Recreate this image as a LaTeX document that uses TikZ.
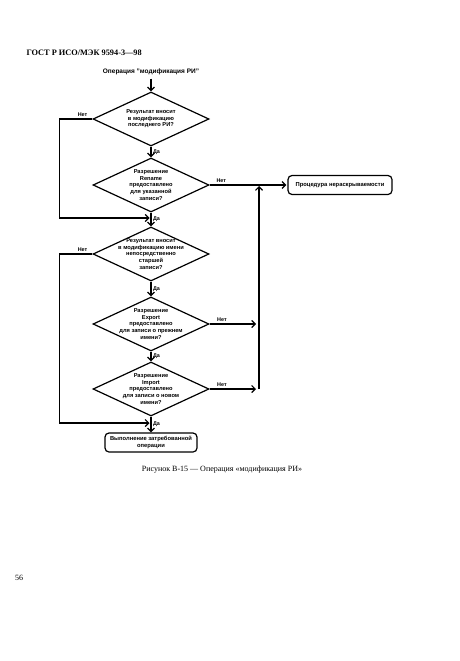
\documentclass[tikz,border=0pt]{standalone}
\usepackage{fontspec}
\setmainfont{Liberation Serif}
\setsansfont{Liberation Sans}
\usetikzlibrary{shapes.geometric,arrows.meta}

\tikzset{
  decision/.style={diamond, draw, line width=1.2pt, minimum width=116pt, minimum height=54pt, inner sep=0pt},
  dtext/.style={font=\sffamily\bfseries\fontsize{5.7}{6.6}\selectfont, align=center, inner sep=0pt},
  procbox/.style={draw, line width=1.2pt, rounded corners=4pt, align=center, inner sep=1pt,
    font=\sffamily\bfseries\fontsize{5.8}{7}\selectfont},
  flow/.style={line width=1.2pt, -{Straight Barb[length=3.5pt,width=7pt]}},
  lbl/.style={font=\sffamily\bfseries\fontsize{5.4}{6}\selectfont, inner sep=1.5pt},
}

\begin{document}
\begin{tikzpicture}[x=1pt,y=-1pt]
    \useasboundingbox (0,0) rectangle (459,661);
    % Page header and title
    \node[font=\bfseries\fontsize{8.3}{10}\selectfont, anchor=west] (hdr) at (23,53) {ГОСТ Р ИСО/МЭК 9594-3—98};
    \node[font=\sffamily\bfseries\fontsize{6.5}{8}\selectfont] (title) at (151,72) {Операция "модификация РИ"};
    % Decisions
    \node[decision] (d1) at (151,119) {};
    \node[dtext] (t1) at (d1) {Результат вносит\\в модификацию\\последнего РИ?};
    \node[decision] (d2) at (151,185) {};
    \node[dtext] (t2) at (d2) {Разрешение\\Rename\\предоставлено\\для указанной\\записи?};
    \node[decision] (d3) at (151,254) {};
    \node[dtext] (t3) at (d3) {Результат вносит\\в модификацию имени\\непосредственно\\старшей\\записи?};
    \node[decision] (d4) at (151,324) {};
    \node[dtext] (t4) at (d4) {Разрешение\\Export\\предоставлено\\для записи о прежнем\\имени?};
    \node[decision] (d5) at (151,389) {};
    \node[dtext] (t5) at (d5) {Разрешение\\Import\\предоставлено\\для записи о новом\\имени?};
    % Procedure boxes
    \node[procbox, minimum width=104pt, minimum height=19pt] (np) at (340,185) {Процедура нераскрываемости};
    \node[procbox, minimum width=92pt, minimum height=19pt] (run) at (151,442.5) {Выполнение затребованной\\операции};
    % Join points
    \coordinate (j1) at (151,218);
    \coordinate (j2) at (151,423);
    \coordinate (r2) at (259,185);
    \coordinate (r4) at (259,324);
    \coordinate (r5) at (259,389);
    % "Да" branches down
    \draw[flow] (title) -- (d1);
    \draw[flow] (d1) -- node[lbl, right] {Да} (d2);
    \draw[flow] (d2) -- node[lbl, right] {Да} (d3);
    \draw[flow] (d3) -- node[lbl, right] {Да} (d4);
    \draw[flow] (d4) -- node[lbl, right] {Да} (d5);
    \draw[flow] (d5) -- node[lbl, right] {Да} (run);
    % "Нет" branches on the left
    \draw[flow, shorten >=1.5pt] (d1.west) -- node[lbl, above, pos=0.3] {Нет} ++(-33,0) |- (j1);
    \draw[flow, shorten >=1.5pt] (d3.west) -- node[lbl, above, pos=0.3] {Нет} ++(-33,0) |- (j2);
    % "Нет" branches on the right
    \draw[flow, shorten >=1pt] (d2.east) -- node[lbl, above, pos=0.15] {Нет} (np.west);
    \draw[flow, shorten >=3pt] (d4.east) -- node[lbl, above, pos=0.25] {Нет} (r4);
    \draw[flow, shorten >=3pt] (d5.east) -- node[lbl, above, pos=0.25] {Нет} (r5);
    \draw[flow, shorten >=1pt] (r5) -- (r2);
    % Caption and page number
    \node[font=\fontsize{8}{10}\selectfont] (cap) at (222,470) {Рисунок В-15 — Операция «модификация РИ»};
    \node[font=\fontsize{8}{10}\selectfont] (pg) at (19,578) {56};
\end{tikzpicture}
\end{document}
